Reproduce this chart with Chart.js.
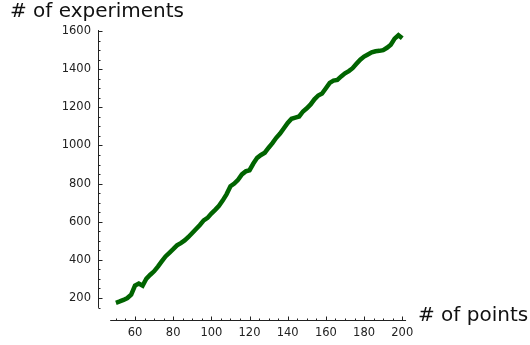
<!DOCTYPE html>
<html>
<head>
<meta charset="utf-8">
<script src="https://cdn.jsdelivr.net/npm/chart.js@4"></script>
<style>
  html, body { margin: 0; padding: 0; background: #fff; }
  #wrap { width: 530px; height: 345px; }
</style>
</head>
<body>
<div id="wrap"><canvas id="expChart"></canvas></div>
<script>
// number of points
const points = [50,52,54,56,58,60,62,64,66,68,70,72,74,76,78,80,82,84,86,88,90,92,94,96,98,
  100,102,104,106,108,110,112,114,116,118,120,122,124,126,128,130,132,134,136,138,140,142,144,146,148,
  150,152,154,156,158,160,162,164,166,168,170,172,174,176,178,180,182,184,186,188,190,192,194,196,198,200];
// number of experiments
const experiments = [175,182,190,200,218,265,276,265,302,322,340,365,392,418,437,456,476,488,502,520,541,562,583,607,620,
  643,662,683,712,745,786,800,820,848,864,870,905,935,950,962,988,1012,1040,1062,1090,1118,1140,1146,1152,1178,
  1195,1215,1242,1262,1272,1300,1328,1340,1344,1362,1378,1390,1405,1428,1450,1466,1477,1488,1494,1496,1500,1512,1528,1560,1578,1562];

const xTicks = [60,80,100,120,140,160,180,200];
const yTicks = [200,400,600,800,1000,1200,1400,1600];
const xLabel = "# of points";
const yLabel = "# of experiments";

const tickFont = { family: "'DejaVu Sans', sans-serif", size: 11.5 };

// sage-style detached axes with inward ticks
const sageAxes = {
  id: "sageAxes",
  beforeDatasetsDraw(chart){
    const ctx = chart.ctx;
    const xs = chart.scales.x, ys = chart.scales.y;
    ctx.save();
    ctx.strokeStyle = "#222";
    ctx.lineWidth = 1;

    // y axis
    const x0 = Math.round(xs.left) + 0.5;
    ctx.beginPath();
    ctx.moveTo(x0, ys.getPixelForValue(1605));
    ctx.lineTo(x0, ys.getPixelForValue(148));
    ctx.stroke();
    for(let v = 150; v <= 1600; v += 50){
      const y = Math.round(ys.getPixelForValue(v)) + 0.5;
      const len = v % 200 === 0 ? 4 : 2;
      ctx.beginPath();
      ctx.moveTo(x0, y);
      ctx.lineTo(x0 + len, y);
      ctx.stroke();
    }

    // x axis
    const y0 = Math.round(ys.bottom) - 0.5;
    ctx.beginPath();
    ctx.moveTo(xs.getPixelForValue(47), y0);
    ctx.lineTo(xs.getPixelForValue(202), y0);
    ctx.stroke();
    for(let v = 50; v <= 200; v += 5){
      const x = Math.round(xs.getPixelForValue(v)) + 0.5;
      const len = v % 20 === 0 ? 4 : 2;
      ctx.beginPath();
      ctx.moveTo(x, y0);
      ctx.lineTo(x, y0 - len);
      ctx.stroke();
    }
    ctx.restore();
  },
  afterDraw(chart){
    const ctx = chart.ctx;
    ctx.save();
    ctx.fillStyle = "#111";
    ctx.font = "20px 'DejaVu Sans', sans-serif";
    ctx.textBaseline = "alphabetic";
    ctx.textAlign = "left";
    ctx.fillText(yLabel, 10, 17);
    ctx.fillText(xLabel, 418, 321);
    ctx.restore();
  }
};

new Chart(document.getElementById("expChart"), {
  type: "line",
  data: {
    datasets: [{
      data: points.map((p, i) => ({ x: p, y: experiments[i] })),
      borderColor: "#006400",
      borderWidth: 4.5,
      pointRadius: 0,
      tension: 0,
      fill: false
    }]
  },
  options: {
    responsive: true,
    maintainAspectRatio: false,
    animation: false,
    devicePixelRatio: 1,
    layout: { padding: { top: 20, right: 110, bottom: 0, left: 0 } },
    plugins: { legend: { display: false }, tooltip: { enabled: false } },
    scales: {
      x: {
        type: "linear",
        min: 40.62,
        max: 209.3,
        grid: { display: false, drawTicks: false },
        border: { display: false },
        ticks: { font: tickFont, color: "#222", padding: 5, maxRotation: 0, callback: v => String(v) },
        afterBuildTicks: s => { s.ticks = xTicks.map(v => ({ value: v })); },
        afterFit: s => { s.height = 24; }
      },
      y: {
        min: 79.4,
        max: 1657.8,
        grid: { display: false, drawTicks: false },
        border: { display: false },
        ticks: { font: tickFont, color: "#222", padding: 7, callback: v => String(v) },
        afterBuildTicks: s => { s.ticks = yTicks.map(v => ({ value: v })); },
        afterFit: s => { s.width = 98; }
      }
    }
  },
  plugins: [sageAxes]
});
</script>
</body>
</html>
